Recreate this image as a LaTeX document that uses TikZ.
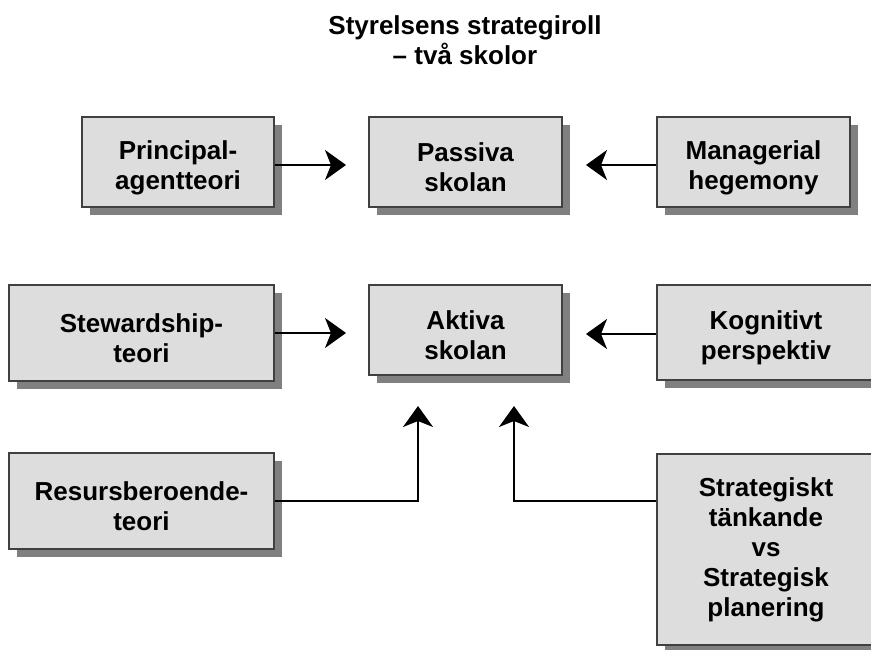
\documentclass[tikz,border=0pt]{standalone}
\usepackage{fontspec}
\setmainfont{Liberation Sans}
\usetikzlibrary{arrows.meta,shadows}

\definecolor{boxfill}{HTML}{DDDDDD}
\definecolor{boxline}{HTML}{404040}
\definecolor{shadowgray}{HTML}{808080}

% invisible strut that lowers a two-line label a little inside its box
\newcommand\toplift{\rule{0pt}{30pt}}

\tikzset{
  theory/.style={
    draw=boxline, line width=1.3pt, fill=boxfill,
    inner sep=0pt, align=center,
    font=\fontsize{26}{30}\selectfont\bfseries,
    drop shadow={shadow xshift=8pt, shadow yshift=-8pt, fill=shadowgray, opacity=1}
  },
  arr/.style={line width=2pt, -{Stealth[length=21pt,width=30pt,inset=6pt]}},
}

\begin{document}
\begin{tikzpicture}[x=1pt, y=-1pt]
  \useasboundingbox (0,0) rectangle (871,650);
  \clip (0,0) rectangle (871,650);
  \fill[white] (0,0) rectangle (871,650);

  % heading
  \node[align=center, font=\fontsize{26}{30}\selectfont\bfseries] (title) at (465,40)
    {Styrelsens strategiroll\\– två skolor};

  % upper row
  \node[theory, minimum width=192pt, minimum height=90pt] (pa) at (178,162) {\toplift Principal-\\agentteori};
  \node[theory, minimum width=193pt, minimum height=90pt] (ps) at (465.5,162) {\toplift Passiva\\skolan};
  \node[theory, minimum width=193pt, minimum height=90pt] (mh) at (753.5,162) {\toplift Managerial\\hegemony};

  % middle row
  \node[theory, minimum width=265pt, minimum height=96pt] (st) at (141.5,333) {\toplift Stewardship-\\teori};
  \node[theory, minimum width=193pt, minimum height=90pt] (ak) at (465.5,330) {\toplift Aktiva\\skolan};
  \node[theory, minimum width=218pt, minimum height=95pt] (kp) at (766,332.5) {\toplift Kognitivt\\perspektiv};

  % lower row
  \node[theory, minimum width=265pt, minimum height=96pt] (rb) at (141.5,501) {\toplift Resursberoende-\\teori};
  \node[theory, minimum width=218pt, minimum height=191pt] (sk) at (766,549.5)
    {Strategiskt\\tänkande\\vs\\Strategisk\\planering};

  % arrow tips stop short of the target boxes
  \coordinate (t1) at (346,165);
  \coordinate (t2) at (586,165);
  \coordinate (t3) at (346,333);
  \coordinate (t4) at (586,334);
  \coordinate (t5) at (418,406);
  \coordinate (t6) at (514,406);
  \coordinate (k6) at (514,501);

  \draw[arr] (pa.east |- t1) -- (t1);
  \draw[arr] (mh.west |- t2) -- (t2);
  \draw[arr] (st.east |- t3) -- (t3);
  \draw[arr] (kp.west |- t4) -- (t4);
  \draw[arr] (rb.east) -| (t5);
  \draw[arr] (sk.west |- k6) -- (k6) -- (t6);
\end{tikzpicture}
\end{document}
